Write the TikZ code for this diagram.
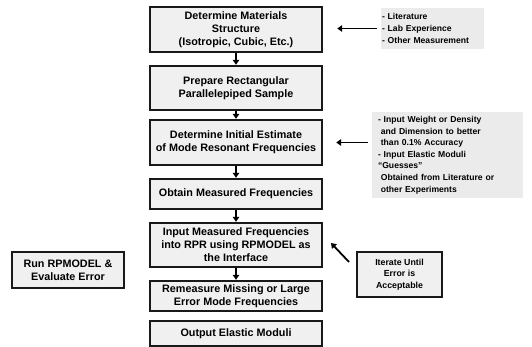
\documentclass[tikz,border=0pt]{standalone}
\usepackage{fontspec}
\setmainfont{Liberation Sans}
\usepackage{xcolor}
\usetikzlibrary{arrows.meta}

\definecolor{boxfill}{gray}{0.94}
\definecolor{notefill}{gray}{0.92}

\tikzset{
	stepbox/.style = {draw=black!90, line width=2.4pt, fill=boxfill, align=center,
		font=\bfseries\fontsize{10.8}{13}\selectfont, inner sep=1pt},
	notebox/.style = {fill=notefill, align=left, anchor=center,
		font=\bfseries\fontsize{8.6}{11.6}\selectfont, inner sep=1pt},
	arr/.style = {line width=1.8pt, -{Triangle[length=5pt,width=6.5pt]}}
}

\begin{document}
\begin{tikzpicture}[x=1pt,y=-1pt]
	\useasboundingbox (0,0) rectangle (532,347);
	% main column
	\node[stepbox, minimum width=172pt, minimum height=45pt] (struct) at (236,29.5) {Determine Materials\\Structure\\(Isotropic, Cubic, Etc.)};
	\node[stepbox, minimum width=172pt, minimum height=44pt] (sample) at (236,88) {Prepare Rectangular\\Parallelepiped Sample};
	\node[stepbox, minimum width=172pt, minimum height=45pt] (estim) at (236,142.5) {Determine Initial Estimate\\of Mode Resonant Frequencies};
	\node[stepbox, minimum width=172pt, minimum height=30pt] (meas) at (236,194) {Obtain Measured Frequencies};
	\node[stepbox, minimum width=172pt, minimum height=44pt] (rpr) at (236,245) {Input Measured Frequencies\\into RPR using RPMODEL as\\the Interface};
	\node[stepbox, minimum width=172pt, minimum height=30pt] (remeas) at (236,296) {Remeasure Missing or Large\\Error Mode Frequencies};
	\node[stepbox, minimum width=172pt, minimum height=25pt] (output) at (236,333.5) {Output Elastic Moduli};
	% side boxes
	\node[stepbox, minimum width=112pt, minimum height=36pt] (run) at (68,270) {Run RPMODEL \&\\Evaluate Error};
	\node[stepbox, minimum width=85pt, minimum height=45pt, font=\bfseries\fontsize{8.8}{11.7}\selectfont] (iter) at (399.5,274.5) {Iterate Until\\Error is\\Acceptable};
	\node[notebox, text width=101pt, minimum height=41pt] (info1) at (432.5,28.5) {- Literature\\- Lab Experience\\- Other Measurement};
	\node[notebox, text width=139pt, inner xsep=6pt, minimum height=86pt] (info2) at (447.5,155) {- Input Weight or Density\\\ and Dimension to better\\\ than 0.1\% Accuracy\\- Input Elastic Moduli\\“Guesses”\\\ Obtained from Literature or\\\ other Experiments};
	\coordinate (itertail) at (349,262);
	\coordinate (iterhead) at (331,243);

	\foreach \a/\b in {struct/sample, sample/estim, estim/meas, meas/rpr, rpr/remeas} {
	\draw[arr] (\a.south) -- (\b.north);
	}
	\draw[arr, shorten <=4pt, shorten >=14pt] (info1.west) -- (struct.east |- info1.west);
	\draw[arr, shorten <=4pt, shorten >=13pt] (info2.west |- estim.east) -- (estim.east);
	\draw[arr] (itertail) -- (iterhead);
\end{tikzpicture}
\end{document}
